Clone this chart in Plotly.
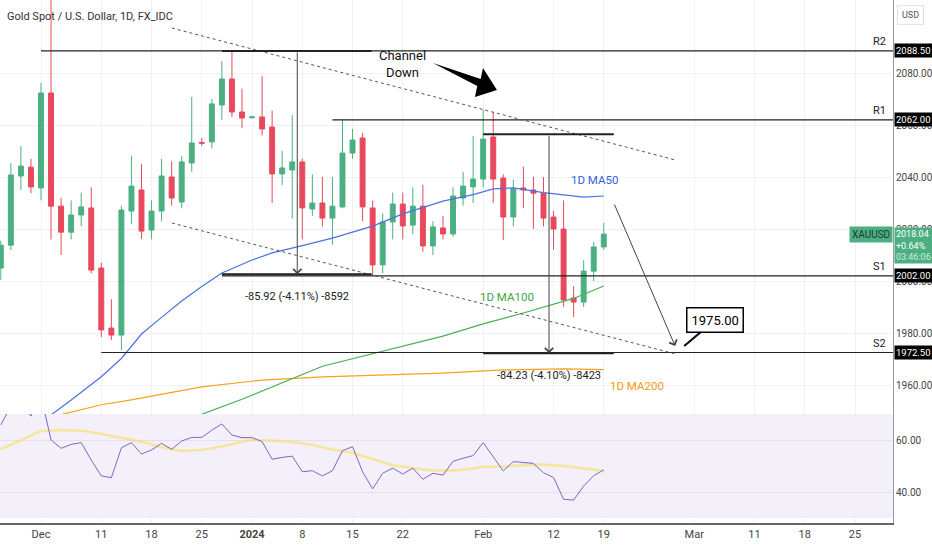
import numpy as np
import pandas as pd
import plotly.graph_objects as go
from plotly.subplots import make_subplots

FONT = "Liberation Sans Narrow, Roboto, sans-serif"
GREEN = "#4caf82"
RED = "#e9495c"
GRID = "#eff1f6"

# daily bars 27 Nov 2023 .. 19 Feb 2024 (weekdays), bar 0 = 1 Dec
bar_dates = pd.bdate_range("2023-11-27", "2024-02-19")
opens = [2005.0, 2013.8, 2040.4, 2043.8, 2035.8, 2072.3, 2028.8, 2018.8, 2025.4, 2028.1,
         2005.0, 1981.9, 1979.2, 2026.9, 2035.0, 2019.6, 2026.9, 2040.0, 2030.4, 2045.4,
         2053.3, 2053.5, 2067.7, 2077.7, 2065.0, 2062.8, 2063.1, 2059.2, 2041.2, 2042.7,
         2045.8, 2027.7, 2030.0, 2024.2, 2028.5, 2049.2, 2055.0, 2028.1, 2006.2, 2022.7,
         2029.6, 2021.5, 2028.8, 2013.5, 2020.4, 2018.1, 2031.9, 2036.2, 2039.2, 2055.4,
         2039.6, 2024.6, 2035.8, 2035.0, 2033.8, 2024.6, 2020.0, 1993.5, 1991.9, 2003.8,
         2013.1]
highs = [2015.5, 2045.4, 2051.9, 2047.0, 2076.2, 2135.0, 2032.0, 2031.0, 2034.0, 2036.0,
         2007.0, 1993.0, 2029.0, 2048.0, 2045.0, 2031.0, 2047.0, 2046.0, 2048.0, 2070.8,
         2055.0, 2070.0, 2084.6, 2088.1, 2074.0, 2063.6, 2078.8, 2065.5, 2050.0, 2063.8,
         2047.0, 2041.0, 2040.0, 2040.0, 2062.0, 2058.5, 2057.0, 2031.0, 2026.0, 2034.0,
         2034.0, 2036.0, 2037.0, 2023.0, 2025.0, 2036.0, 2042.0, 2055.8, 2065.8, 2065.0,
         2041.0, 2039.0, 2044.0, 2040.0, 2040.0, 2027.0, 2031.0, 1998.0, 2008.0, 2015.0,
         2022.3]
lows = [2000.4, 2011.9, 2035.0, 2033.8, 2031.0, 2016.0, 2010.0, 2016.0, 2021.0, 2003.0,
        1978.5, 1977.3, 1973.5, 2022.0, 2016.2, 2016.0, 2023.0, 2029.0, 2028.0, 2042.0,
        2052.0, 2051.0, 2062.0, 2063.0, 2058.8, 2062.4, 2056.0, 2030.0, 2036.9, 2024.0,
        2016.0, 2025.0, 2021.0, 2014.0, 2028.0, 2047.0, 2023.0, 2002.0, 2003.0, 2016.0,
        2016.0, 2018.0, 2011.2, 2010.0, 2016.0, 2017.0, 2029.0, 2030.0, 2036.0, 2030.0,
        2015.8, 2021.0, 2028.0, 2020.0, 2021.0, 2012.0, 1990.0, 1986.2, 1990.0, 2000.0,
        2012.0]
closes = [2013.8, 2040.8, 2044.2, 2036.2, 2072.3, 2028.8, 2018.8, 2025.4, 2028.5, 2004.2,
          1981.2, 1979.2, 2027.3, 2036.5, 2019.2, 2026.9, 2040.4, 2031.9, 2045.8, 2053.1,
          2053.0, 2068.1, 2077.7, 2065.0, 2062.7, 2063.1, 2058.5, 2041.2, 2043.5, 2045.8,
          2028.1, 2030.0, 2024.2, 2028.8, 2049.2, 2054.2, 2028.5, 2006.2, 2022.7, 2029.6,
          2021.2, 2028.8, 2013.5, 2020.8, 2018.1, 2032.7, 2036.5, 2039.2, 2054.6, 2039.2,
          2024.6, 2035.4, 2035.0, 2033.8, 2024.2, 2020.0, 1992.7, 1991.9, 2003.8, 2013.1,
          2018.04]
rsi = [65.8, 73.0, 74.0, 69.2, 77.0, 60.0, 56.8, 58.3, 59.0, 52.3,
       46.2, 45.5, 57.0, 59.0, 54.6, 56.2, 58.7, 56.4, 59.6, 61.0,
       61.0, 63.8, 66.2, 61.9, 60.9, 60.9, 59.4, 52.6, 53.3, 53.8,
       47.8, 48.2, 46.2, 48.2, 55.9, 57.4, 47.8, 41.2, 47.2, 49.2,
       46.9, 49.2, 44.9, 47.2, 46.5, 51.8, 53.0, 54.0, 59.0, 53.6,
       48.1, 51.7, 51.4, 51.0, 47.4, 45.6, 37.2, 36.9, 42.3, 46.3,
       48.5]

# moving averages read at bar numbers
ma50_bar = [0, 1, 3, 6, 8, 10, 12, 14, 16, 18, 21, 23, 26, 29, 33, 36, 40, 43, 45, 47, 50, 54, 56]
ma50_val = [1945.0, 1948.5, 1954.2, 1963.2, 1970.2, 1979.6, 1986.0, 1992.3, 1997.9, 2003.1, 2008.1,
            2010.8, 2013.6, 2016.5, 2021.1, 2025.8, 2030.7, 2033.2, 2035.4, 2035.8, 2034.0, 2032.3, 2032.7]
ma100_bar = [15, 20, 28, 34, 40, 44, 48, 53, 56]
ma100_val = [1947.3, 1954.5, 1967.2, 1973.0, 1978.8, 1983.5, 1987.7, 1993.3, 1998.1]
ma200_bar = [1, 2, 6, 9, 16, 22, 28, 34, 40, 46, 52, 56]
ma200_val = [1947.5, 1948.6, 1952.4, 1954.3, 1959.3, 1961.9, 1963.1, 1963.8, 1964.6, 1965.8, 1966.2, 1965.9]
rsi_ma_bar = [-4, -2, 0, 2, 4, 6, 8, 10, 12, 14, 16, 18, 20, 21, 23, 25, 27, 29, 31, 33, 35, 37,
              39, 41, 43, 44, 46, 48, 50, 52, 54, 56]
rsi_ma_val = [56.4, 60.0, 63.5, 63.8, 63.6, 62.3, 60.8, 59.3, 57.2, 55.8, 56.2, 57.5, 59.3, 60.0,
              59.8, 59.2, 58.1, 56.4, 55.1, 52.6, 50.3, 49.2, 48.3, 48.3, 49.0, 49.7, 49.8, 50.4,
              50.6, 50.0, 49.2, 48.2]

tick_dates = ["2023-12-01", "2023-12-11", "2023-12-18", "2023-12-25", "2024-01-01", "2024-01-08",
              "2024-01-15", "2024-01-22", "2024-02-01", "2024-02-12", "2024-02-19", "2024-03-01",
              "2024-03-11", "2024-03-18", "2024-03-25"]
tick_text = ["Dec", "11", "18", "25", "<b>2024</b>", "8", "15", "22", "Feb", "12", "19", "Mar",
             "11", "18", "25"]
price_ticks = [1960, 1980, 2000, 2020, 2040, 2060, 2080]

# levels: name, price, first bar
levels = [("R2", 2088.5, 0), ("R1", 2062.0, 29), ("S1", 2002.0, 18), ("S2", 1972.5, 6)]
last_price = 2018.04

calendar = pd.bdate_range("2023-11-27", "2024-03-29")
def bar_no(d):
    return calendar.get_loc(pd.Timestamp(d)) - 4

x = [bar_no(d) for d in bar_dates]
tick_pos = [bar_no(d) for d in tick_dates]
X_MIN, X_MAX = -4.08, 84.78

fig = make_subplots(rows=2, cols=1, shared_xaxes=True, vertical_spacing=0, row_heights=[414, 109])

fig.add_trace(go.Candlestick(
    x=x, open=opens, high=highs, low=lows, close=closes,
    increasing=dict(line=dict(color=GREEN, width=1), fillcolor=GREEN),
    decreasing=dict(line=dict(color=RED, width=1), fillcolor=RED),
    whiskerwidth=0, hoverinfo="skip", showlegend=False), row=1, col=1)

for bars, vals, col in [(ma200_bar, ma200_val, "#f7a21b"), (ma100_bar, ma100_val, "#4caf50"),
                        (ma50_bar, ma50_val, "#4a72e0")]:
    fig.add_trace(go.Scatter(x=bars, y=vals, mode="lines", line=dict(color=col, width=1.2),
                             hoverinfo="skip"), row=1, col=1)

fig.add_trace(go.Scatter(x=rsi_ma_bar, y=rsi_ma_val, mode="lines",
                         line=dict(color="rgba(247,221,80,0.55)", width=2.5)), row=2, col=1)
fig.add_trace(go.Scatter(x=x, y=rsi, mode="lines", line=dict(color="#7e67c2", width=1)), row=2, col=1)

shapes = [dict(type="rect", xref="x2 domain", yref="y2", x0=0, x1=1, y0=30, y1=70,
               fillcolor="rgba(126,87,194,0.09)", line=dict(width=0), layer="below")]
ann = []

def line(x0, y0, x1, y1, width=1.2, color="#222", dash="solid"):
    return dict(type="line", xref="x", yref="y", x0=x0, y0=y0, x1=x1, y1=y1,
                line=dict(color=color, width=width, dash=dash))

for name, p, start in levels:
    shapes.append(line(start, p, X_MAX, p))
    ann.append(dict(x=84.3, y=p, xref="x", yref="y", text=name, showarrow=False, xanchor="right",
                    yanchor="bottom", yshift=1, font=dict(size=11, color="#222")))
    ann.append(dict(x=1, y=p, xref="paper", yref="y", text=f"{p:.2f}", showarrow=False,
                    xanchor="left", xshift=1, bgcolor="#000", borderpad=1,
                    font=dict(size=9.5, color="white")))

# channel
shapes.append(line(13.03, 2097.3, 63.18, 2046.5, width=1, color="#555", dash="dot"))
shapes.append(line(13.03, 2022.3, 63.18, 1971.9, width=1, color="#555", dash="dot"))

# measurements
measures = [(18.0, 32.9, 25.5, 2088.5, 2002.58, "-85.92 (-4.11%) -8592", 1994.2),
            (44.0, 57.0, 50.55, 2056.4, 1972.17, "-84.23 (-4.10%) -8423", 1963.8)]
for x0, x1, xm, top, bot, txt, ly in measures:
    shapes.append(line(x0, top, x1, top, width=2, color="#222"))
    shapes.append(line(x0, bot, x1, bot, width=2, color="#222"))
    ann.append(dict(x=xm, y=bot, ax=xm, ay=top, xref="x", yref="y", axref="x", ayref="y", text="",
                    showarrow=True, arrowhead=4, arrowsize=1.6, arrowwidth=1, arrowcolor="#444"))
    ann.append(dict(x=xm, y=ly, xref="x", yref="y", text=txt, showarrow=False,
                    font=dict(size=11, color="#222")))

# projection and target
ann.append(dict(x=63.1, y=1975.0, ax=57.0, ay=2030.0, xref="x", yref="y", axref="x", ayref="y",
                text="", showarrow=True, arrowhead=4, arrowsize=1.6, arrowwidth=1, arrowcolor="#444"))
ann.append(dict(x=64.0, y=1975.0, xref="x", yref="y", ax=31, ay=-26, text="1975.00",
                showarrow=True, arrowhead=0, arrowwidth=2, arrowcolor="#000", bgcolor="white",
                bordercolor="#000", borderwidth=1.5, borderpad=4, font=dict(size=13, color="#000")))

# channel down label + big arrow
ann.append(dict(x=36.0, y=2083.5, xref="x", yref="y", text="Channel<br>Down", showarrow=False,
                font=dict(size=13, color="#111")))
arrow_pts = [(39.0, 2083.85), (43.75, 2077.73), (43.98, 2081.92), (45.37, 2073.46),
             (43.18, 2070.77), (43.41, 2074.96)]
path = "M " + " L ".join(f"{a},{b}" for a, b in arrow_pts) + " Z"
shapes.append(dict(type="path", xref="x", yref="y", path=path, fillcolor="#000", line=dict(width=0)))

# MA labels
for txt, xx, yy, col in [("1D MA50", 55.1, 2038.8, "#2f62e6"), ("1D MA100", 46.4, 1993.8, "#3ea447"),
                         ("1D MA200", 59.3, 1959.6, "#f59a10")]:
    ann.append(dict(x=xx, y=yy, xref="x", yref="y", text=txt, showarrow=False,
                    font=dict(size=11.5, color=col)))

# title, currency, last price
ann.append(dict(x=0, y=1, xref="paper", yref="paper", xanchor="left", yanchor="middle", xshift=5,
                yshift=-16, text="Gold Spot / U.S. Dollar, 1D, FX_IDC", showarrow=False,
                font=dict(size=11, color="#333")))
ann.append(dict(x=1, y=1, xref="paper", yref="paper", xanchor="left", yanchor="top", xshift=4,
                yshift=-5, text="USD", showarrow=False, bordercolor="#e0e3eb", borderwidth=1,
                borderpad=4, font=dict(size=9, color="#555")))
ann.append(dict(x=1, y=last_price, xref="paper", yref="y", xanchor="right", text="XAUUSD",
                showarrow=False, bgcolor=GREEN, borderpad=2, font=dict(size=10, color="#1b3d2c")))
ann.append(dict(x=1, y=last_price, xref="paper", yref="y", xanchor="left", yanchor="top", xshift=1,
                yshift=7, text="2018.04<br>+0.64%<br><span style='color:#cdeedd'>03:46:06</span>",
                showarrow=False, bgcolor=GREEN, borderpad=1, align="left",
                font=dict(size=9, color="white")))

fig.update_layout(width=932, height=550, margin=dict(l=0, r=39, t=0, b=27),
                  paper_bgcolor="white", plot_bgcolor="white", showlegend=False, hovermode=False,
                  font=dict(family=FONT, color="#131722"), shapes=shapes, annotations=ann)
fig.update_xaxes(range=[X_MIN, X_MAX], tickvals=tick_pos, ticktext=tick_text, showgrid=True,
                 gridcolor=GRID, zeroline=False, rangeslider_visible=False)
fig.update_xaxes(showticklabels=False, row=1, col=1)
fig.update_xaxes(showline=True, linecolor="#666", linewidth=1.5, ticks="",
                 tickfont=dict(size=11, color="#444"), row=2, col=1)
fig.update_yaxes(side="right", showgrid=True, gridcolor=GRID, zeroline=False, tickformat=".2f",
                 showline=True, linecolor="#999", linewidth=1, ticks="",
                 tickfont=dict(size=10, color="#444"))
fig.update_yaxes(range=[1948.85, 2108.08], tickvals=price_ticks, row=1, col=1)
fig.update_yaxes(range=[28.08, 70.0], tickvals=[40, 60], gridcolor="#e4e1ee", row=2, col=1)

# page body has an 8px default margin; drop it so the figure sits at the window origin
fig.write_html("out.html", config={"displayModeBar": False},
               post_script="document.body.style.margin='0';")
